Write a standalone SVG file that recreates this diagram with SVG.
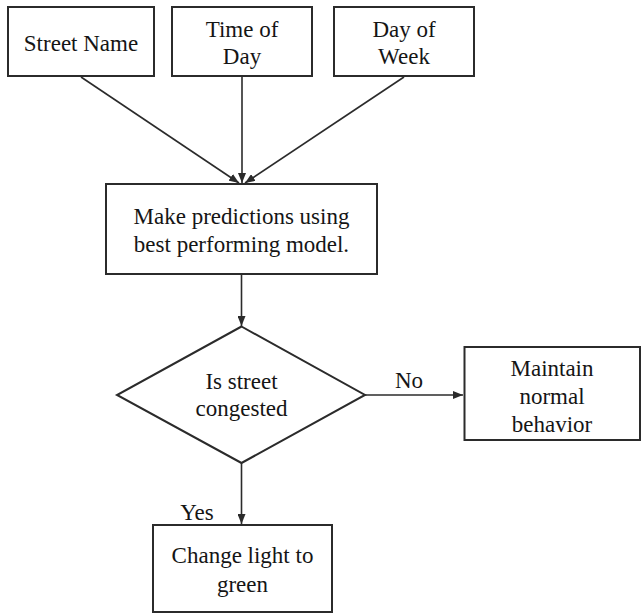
<svg xmlns="http://www.w3.org/2000/svg" width="641" height="615" viewBox="0 0 641 615">
  <style>
    .box { fill: #ffffff; stroke: #2b2b2b; stroke-width: 2; }
    .edge { fill: none; stroke: #2b2b2b; stroke-width: 1.6; marker-end: url(#arrow); }
    .lbl { font-size: 23px; fill: #151515; text-anchor: middle; }
  </style>
  <defs>
    <marker id="arrow" viewBox="0 0 10 8" refX="10" refY="4" markerWidth="10" markerHeight="8" markerUnits="userSpaceOnUse" orient="auto">
      <path d="M0,0 L10,4 L0,8 Z" fill="#2b2b2b"/>
    </marker>
  </defs>
  <rect width="641" height="615" fill="#ffffff"/>

  <g font-family="Liberation Serif, DejaVu Serif, serif">
  <g id="connectors">
    <line class="edge" x1="81" y1="77" x2="239" y2="183"/>
    <line class="edge" x1="242" y1="77" x2="242" y2="183"/>
    <line class="edge" x1="404" y1="77" x2="245" y2="183"/>
    <line class="edge" x1="241.5" y1="274" x2="241.5" y2="326"/>
    <line class="edge" x1="365" y1="395" x2="463" y2="395"/>
    <line class="edge" x1="241.5" y1="463" x2="241.5" y2="524"/>
    <text class="lbl" x="409" y="388">No</text>
    <text class="lbl" x="197" y="520">Yes</text>
  </g>

  <g id="street-name">
    <rect class="box" x="8" y="7" width="146" height="69"/>
    <text class="lbl" x="81" y="51">Street Name</text>
  </g>

  <g id="time-of-day">
    <rect class="box" x="172" y="7" width="140" height="69"/>
    <text class="lbl" x="242" y="37">Time of</text>
    <text class="lbl" x="242" y="64">Day</text>
  </g>

  <g id="day-of-week">
    <rect class="box" x="334" y="7" width="140" height="69"/>
    <text class="lbl" x="404" y="37">Day of</text>
    <text class="lbl" x="404" y="64">Week</text>
  </g>

  <g id="predict">
    <rect class="box" x="106" y="184" width="271" height="90"/>
    <text class="lbl" x="241.5" y="224">Make predictions using</text>
    <text class="lbl" x="241.5" y="252">best performing model.</text>
  </g>

  <g id="congested">
    <polygon class="box" points="241.5,326.5 365,395 241.5,463 117,395"/>
    <text class="lbl" x="241.5" y="389">Is street</text>
    <text class="lbl" x="241.5" y="416">congested</text>
  </g>

  <g id="maintain">
    <rect class="box" x="464.5" y="347" width="175.5" height="93"/>
    <text class="lbl" x="552" y="376">Maintain</text>
    <text class="lbl" x="552" y="404">normal</text>
    <text class="lbl" x="552" y="432">behavior</text>
  </g>

  <g id="green-light">
    <rect class="box" x="153" y="525" width="179" height="87"/>
    <text class="lbl" x="242.5" y="563">Change light to</text>
    <text class="lbl" x="242.5" y="592">green</text>
  </g>
  </g>
</svg>
